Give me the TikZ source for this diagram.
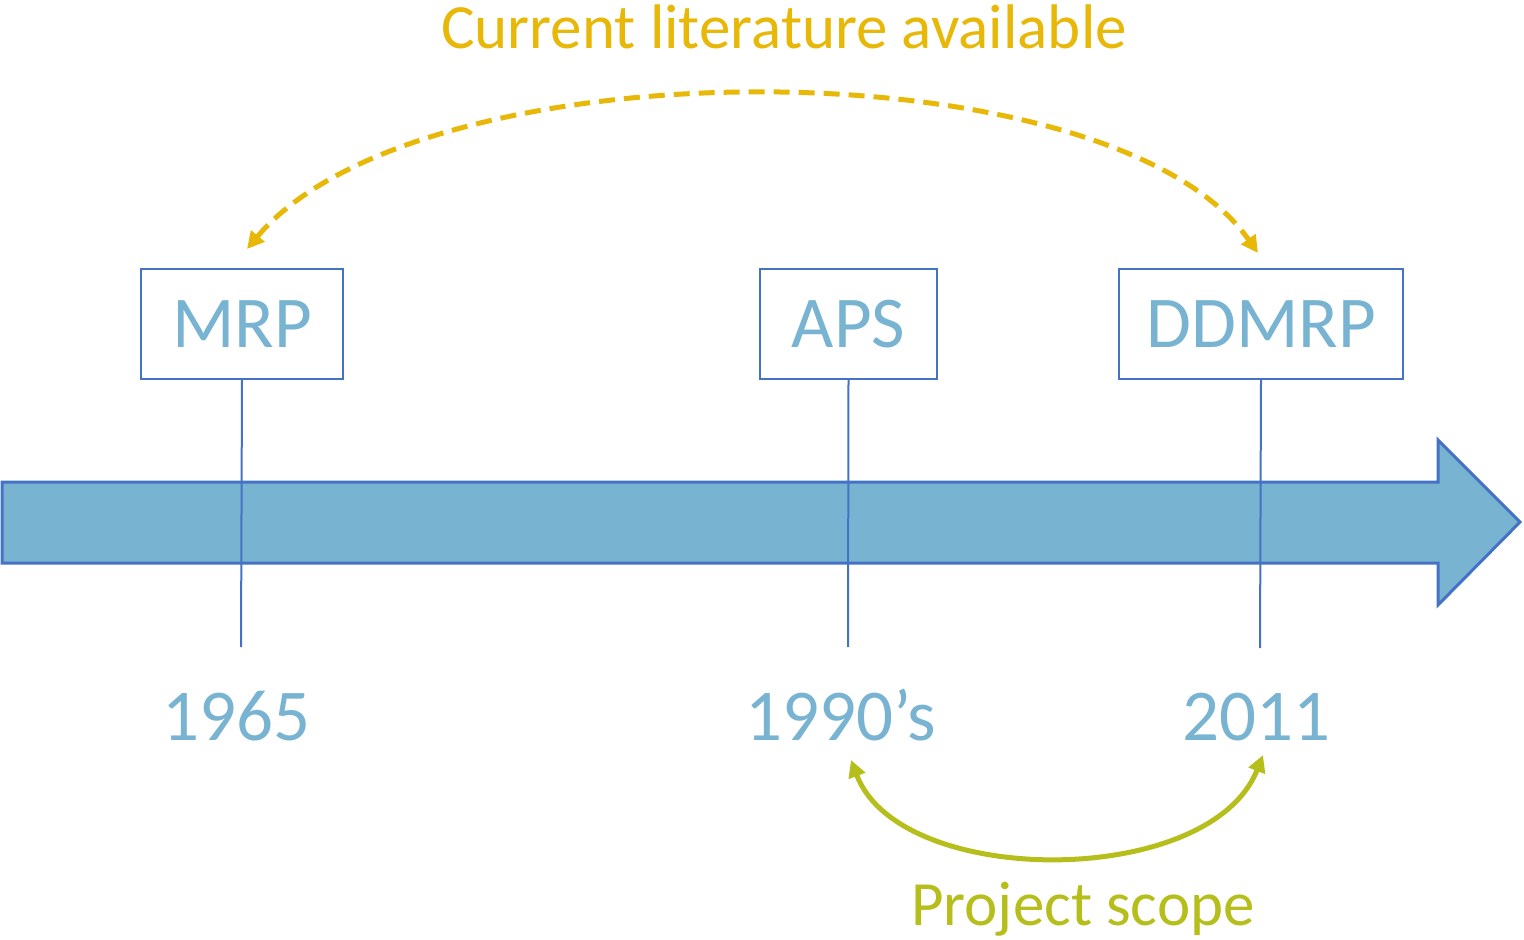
\documentclass[tikz,border=0pt]{standalone}
\usepackage{fontspec}
\setmainfont{Carlito}
\usetikzlibrary{arrows.meta,positioning}
\definecolor{tlblue}{HTML}{78B4D2}
\definecolor{tledge}{HTML}{4472C4}
\definecolor{tlgold}{HTML}{E8B808}
\definecolor{tlgreen}{HTML}{B6BE1C}

\begin{document}
\begin{tikzpicture}[x=1pt, y=-1pt, >={Triangle[width=17pt,length=17pt]},
    eventbox/.style={draw=tledge, line width=2pt, fill=white, text=tlblue,
        font=\fontsize{73}{80}\selectfont, minimum height=110pt, inner sep=0pt},
    yearlabel/.style={anchor=base, text=tlblue, font=\fontsize{73}{80}\selectfont},
    ticker/.style={draw=tledge, line width=2pt},
    spanlabel/.style={anchor=base, font=\fontsize{63}{70}\selectfont}]
        \useasboundingbox (0,0) rectangle (1524,940);

        % 1. Mũi tên thời gian
        \draw[fill=tlblue, draw=tledge, line width=3pt, line join=miter]
            (2,482) -- (1438,482) -- (1438,440) -- (1520,522)
            -- (1438,605) -- (1438,563) -- (2,563) -- cycle;

        % 2. Các mốc
        \node[eventbox, minimum width=202pt] (mrp) at (242,324) {MRP};
        \node[eventbox, minimum width=177pt] (aps) at (848.5,324) {APS};
        \node[eventbox, minimum width=284pt] (ddmrp) at (1261,324) {DDMRP};

        \coordinate (mrpend) at (241,647);
        \coordinate (apsend) at (848,647);
        \coordinate (ddmrpend) at (1260,648);
        \draw[ticker] (mrp.south) -- (mrpend);
        \draw[ticker] (aps.south) -- (apsend);
        \draw[ticker] (ddmrp.south) -- (ddmrpend);

        % 3. Các năm
        \node[yearlabel] (y1965) at (236,740) {1965};
        \node[yearlabel] (y1990) at (841,740) {1990’s};
        \node[yearlabel] (y2011) at (1256,740) {2011};

        % 4. Tài liệu hiện có
        \node[spanlabel, text=tlgold] (lit) at (784,48) {Current literature available};
        \coordinate (litA) at (247,249);
        \coordinate (litB) at (1258,253);
        \draw[<->, tlgold, line width=5pt, dash pattern=on 16pt off 9pt]
            (litA) .. controls (420,43) and (1110,43) .. (litB);

        % 5. Phạm vi dự án
        \node[spanlabel, text=tlgreen] (scope) at (1083,925) {Project scope};
        \coordinate (scopeA) at (851,760);
        \coordinate (scopeB) at (1263,755);
        \draw[<->, tlgreen, line width=5pt]
            (scopeA) .. controls (900,889) and (1210,889) .. (scopeB);

    \end{tikzpicture}
\end{document}
